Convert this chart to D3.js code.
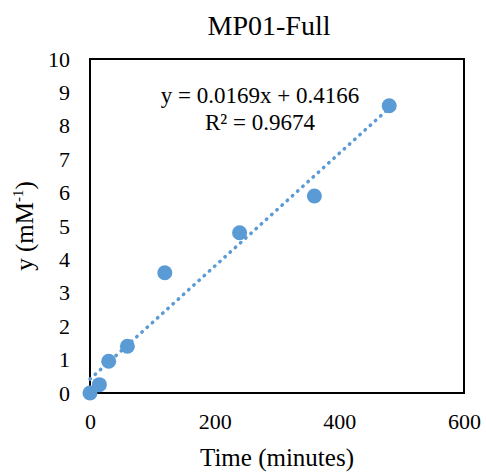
<!DOCTYPE html>
<html><head><meta charset="utf-8">
<script src="https://cdn.jsdelivr.net/npm/d3@7"></script>
<style>body{margin:0;background:#fff}svg{display:block}svg text{font-family:"Liberation Serif","Times New Roman",serif !important;fill:#000}</style>
</head><body>
<svg id="c" width="486" height="474"></svg>
<script>
const xValues = [0, 15, 30, 60, 120, 240, 360, 480];
const yValues = [0, 0.25, 0.95, 1.4, 3.6, 4.8, 5.9, 8.6];
const xTicks = [0, 200, 400, 600];
const yTicks = [0,1,2,3,4,5,6,7,8,9,10];
const trendSlope = 0.0169, trendIntercept = 0.4166;
const equationLines = ["y = 0.0169x + 0.4166", "R² = 0.9674"];
const title = "MP01-Full";
const xTitle = "Time (minutes)";

const serif = '"Liberation Serif", "Times New Roman", serif';
const svg = d3.select("#c");
const L = 90, R = 464, T = 59, B = 393;
const x = d3.scaleLinear().domain([0, 600]).range([L, R]);
const y = d3.scaleLinear().domain([0, 10]).range([B, T]);
const blue = "#5B9BD5";

svg.append("rect").attr("x", L).attr("y", T).attr("width", R - L).attr("height", B - T)
  .attr("fill", "none").attr("stroke", "#000").attr("stroke-width", 2);

const yAxis = svg.append("g").attr("transform", `translate(${L},0)`)
  .call(d3.axisLeft(y).tickValues(yTicks).tickSize(0).tickPadding(20).tickFormat(d3.format("d")));
yAxis.attr("font-family", serif);
yAxis.select(".domain").remove();
yAxis.selectAll("text").attr("font-size", 22).style("font-family", serif);

const xAxis = svg.append("g").attr("transform", `translate(0,${B})`)
  .call(d3.axisBottom(x).tickValues(xTicks).tickSize(0).tickPadding(20).tickFormat(d3.format("d")));
xAxis.attr("font-family", serif);
xAxis.select(".domain").remove();
xAxis.selectAll("text").attr("font-size", 22).style("font-family", serif);

// trendline over the data's x range
const xr = d3.extent(xValues);
svg.append("line")
  .attr("x1", x(xr[0])).attr("y1", y(trendSlope * xr[0] + trendIntercept))
  .attr("x2", x(xr[1])).attr("y2", y(trendSlope * xr[1] + trendIntercept))
  .attr("stroke", blue).attr("stroke-width", 3.5).attr("stroke-linecap", "round")
  .attr("stroke-dasharray", "0.5,6.5");

svg.selectAll("circle.pt").data(xValues).join("circle").attr("class", "pt")
  .attr("cx", d => x(d)).attr("cy", (d, i) => y(yValues[i])).attr("r", 7.5).attr("fill", blue);

svg.append("text").attr("x", 269).attr("y", 35).attr("text-anchor", "middle")
  .attr("font-size", 28).style("font-family", serif).text(title);

svg.append("text").attr("x", 277).attr("y", 466).attr("text-anchor", "middle")
  .attr("font-size", 25).style("font-family", serif).text(xTitle);

const yt = svg.append("text").attr("transform", `translate(33,226) rotate(-90)`)
  .attr("text-anchor", "middle").attr("font-size", 25).style("font-family", serif);
yt.append("tspan").text("y (mM");
yt.append("tspan").attr("font-size", 15).attr("dy", -10).text("-1");
yt.append("tspan").attr("dy", 10).text(")");

svg.selectAll("text.eq").data(equationLines).join("text").attr("class", "eq")
  .attr("x", 260).attr("y", (d, i) => 103 + i * 27).attr("text-anchor", "middle")
  .attr("font-size", 23).style("font-family", serif).text(d => d);
</script>
</body></html>
